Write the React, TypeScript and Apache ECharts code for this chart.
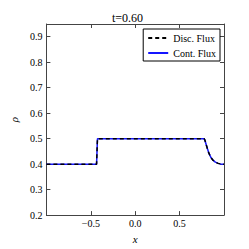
import React, { useEffect, useRef } from "react";
import * as echarts from "echarts";

const titleText = "t=0.60";
const seriesNames = ["Disc. Flux", "Cont. Flux"];
const xValues = [-1.0, -0.435, -0.43, -0.425, 0.776, 0.785, 0.794, 0.805, 0.817, 0.83, 0.851, 0.872, 0.903, 0.934, 0.96, 0.989, 1.0];
const rhoDisc = [0.4, 0.4, 0.45, 0.5, 0.5, 0.494, 0.483, 0.47, 0.456, 0.443, 0.427, 0.417, 0.408, 0.403, 0.401, 0.4, 0.4];
const rhoCont = [0.4, 0.4, 0.45, 0.5, 0.5, 0.494, 0.483, 0.47, 0.456, 0.443, 0.427, 0.417, 0.408, 0.403, 0.401, 0.4, 0.4];
const xTicks = [-0.5, 0, 0.5];
const yTicks = [0.2, 0.3, 0.4, 0.5, 0.6, 0.7, 0.8, 0.9];

const serif = "'Liberation Serif', 'DejaVu Serif', serif";

export default function App() {
  const ref = useRef<HTMLDivElement>(null);
  useEffect(() => {
    if (!ref.current) return;
    const chart = echarts.init(ref.current, null, { renderer: "svg" });
    const fmtX = (v: number) => {
      const r = Math.round(v * 10) / 10;
      if (!xTicks.some((t) => Math.abs(t - r) < 1e-6)) return "";
      const s = Math.abs(r).toFixed(1);
      return r < 0 ? "\u2212" + s : s;
    };
    const fmtY = (v: number) => {
      const r = Math.round(v * 100) / 100;
      if (!yTicks.some((t) => Math.abs(t - r) < 1e-6)) return "";
      return r.toFixed(1);
    };
    const frame = { show: true, onZero: false, lineStyle: { color: "#444", width: 1 } };
    const tick = { show: true, inside: true, length: 4, lineStyle: { color: "#444", width: 1 } };
    chart.setOption({
      animation: false,
      grid: { left: 31, right: 25, top: 24, bottom: 26, containLabel: false },
      graphic: [
        {
          type: "text",
          x: 127.5,
          y: 18,
          style: {
            text: titleText,
            fill: "#000",
            font: `12px ${serif}`,
            textAlign: "center",
            textVerticalAlign: "middle",
          },
        },
      ],
      legend: {
        data: seriesNames,
        orient: "vertical",
        right: 29,
        top: 29,
        itemWidth: 20,
        itemHeight: 8,
        itemGap: 5,
        padding: [4, 4, 3, 4],
        borderColor: "#000",
        borderWidth: 1,
        borderRadius: 0,
        backgroundColor: "#fff",
        itemStyle: { opacity: 0, borderWidth: 0 },
        textStyle: { fontFamily: serif, fontSize: 10, color: "#000" },
      },
      xAxis: [
        {
          type: "value",
          min: -1,
          max: 1,
          interval: 0.5,
          name: "x",
          nameLocation: "middle",
          nameGap: 16,
          nameTextStyle: { fontFamily: serif, fontStyle: "italic", fontSize: 11, color: "#000" },
          axisLine: frame,
          axisTick: tick,
          splitLine: { show: false },
          axisLabel: { formatter: fmtX, margin: 3, fontFamily: serif, fontSize: 10, color: "#000", showMinLabel: false, showMaxLabel: false },
        },
        {
          type: "value",
          position: "top",
          min: -1,
          max: 1,
          interval: 0.5,
          axisLine: frame,
          axisTick: tick,
          splitLine: { show: false },
          axisLabel: { show: false },
        },
      ],
      yAxis: [
        {
          type: "value",
          min: 0.2,
          max: 0.95,
          interval: 0.1,
          name: "\u03c1",
          nameLocation: "middle",
          nameRotate: 90,
          nameGap: 27,
          nameTextStyle: { fontFamily: serif, fontStyle: "italic", fontSize: 11, color: "#000" },
          axisLine: frame,
          axisTick: tick,
          splitLine: { show: false },
          axisLabel: { formatter: fmtY, margin: 4, fontFamily: serif, fontSize: 10, color: "#000", showMaxLabel: false },
        },
        {
          type: "value",
          position: "right",
          min: 0.2,
          max: 0.95,
          interval: 0.1,
          axisLine: frame,
          axisTick: tick,
          splitLine: { show: false },
          axisLabel: { show: false },
        },
      ],
      series: [
        {
          name: seriesNames[1],
          type: "line",
          data: xValues.map((x, i) => [x, rhoCont[i]]),
          showSymbol: false,
          symbol: "none",
          smooth: false,
          lineStyle: { color: "#1515ff", width: 1.5 },
          itemStyle: { color: "#1515ff" },
          z: 2,
        },
        {
          name: seriesNames[0],
          type: "line",
          data: xValues.map((x, i) => [x, rhoDisc[i]]),
          showSymbol: false,
          symbol: "none",
          lineStyle: { color: "#000", width: 1.5, type: [4, 3] },
          itemStyle: { color: "#000" },
          z: 3,
        },
      ],
    });
    return () => chart.dispose();
  }, []);
  return (
    <div
      ref={ref}
      style={{ position: "fixed", left: 0, top: 0, width: 249, height: 249, background: "#fff" }}
    />
  );
}
